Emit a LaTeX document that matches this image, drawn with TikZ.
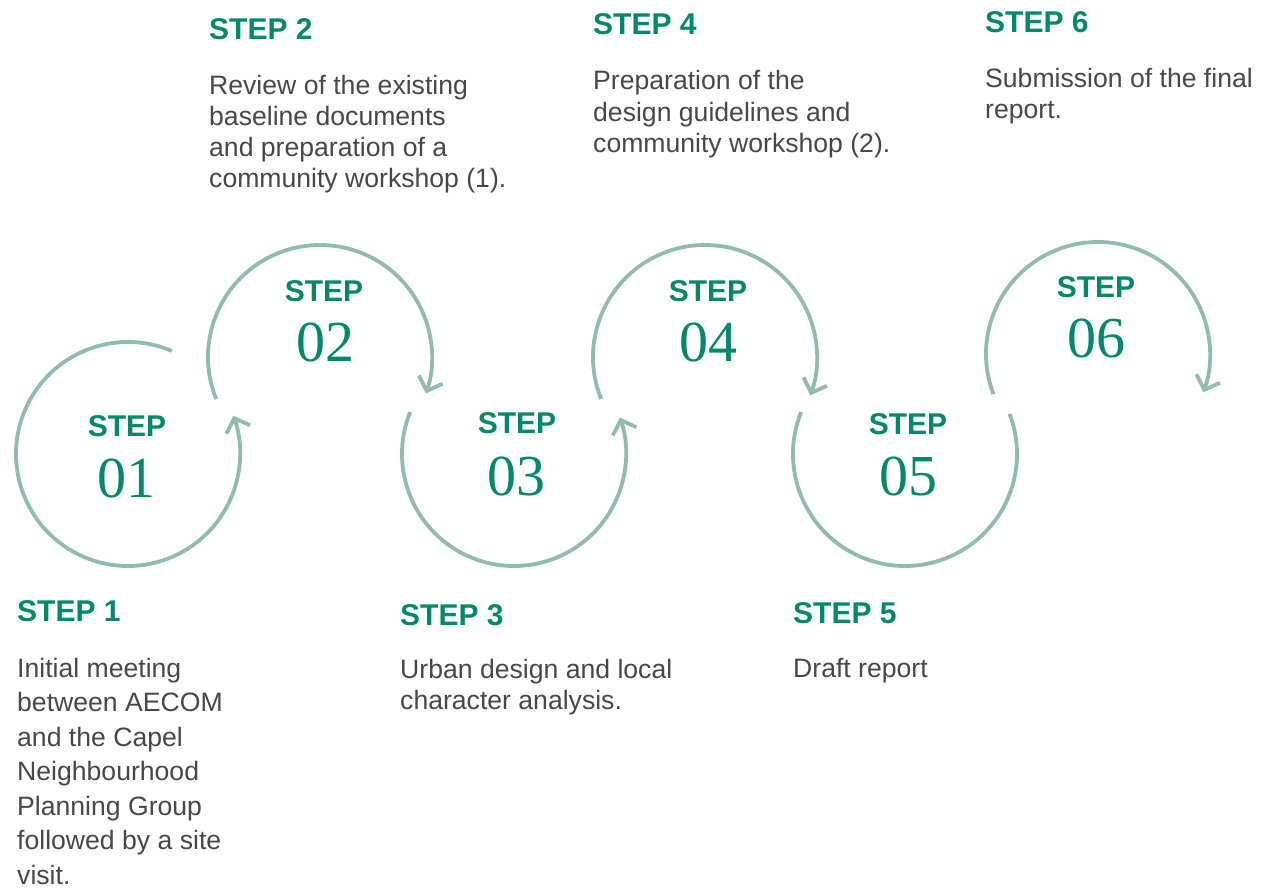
\documentclass[tikz,border=0pt]{standalone}
\usepackage{fontspec}
\setmainfont{Liberation Sans}
\newfontfamily\numfont{Liberation Serif}
\usetikzlibrary{arrows.meta}
\definecolor{stepgreen}{HTML}{00896A}
\definecolor{ringgreen}{HTML}{8FBDA9}
\definecolor{bodygray}{HTML}{474747}
\tikzset{
  ring/.style={draw=ringgreen, line width=3.8pt},
  ringarrow/.style={ring, -{Straight Barb[length=12pt,width=25pt]}},
  head/.style={anchor=base west, inner sep=0pt, text=stepgreen, font=\fontsize{30}{36}\selectfont\bfseries},
  body/.style={anchor=base west, inner sep=0pt, text=bodygray, font=\fontsize{26.6}{32}\selectfont},
  inhead/.style={anchor=base, inner sep=0pt, text=stepgreen, font=\fontsize{30}{36}\selectfont\bfseries},
  innum/.style={anchor=base, inner sep=0pt, text=stepgreen, font=\fontsize{58}{62}\selectfont\numfont},
}
\newcommand\blocklines[2]{\vtop{\baselineskip=#1\relax #2}}
\begin{document}
\begin{tikzpicture}[x=1pt,y=1pt]
\useasboundingbox (0,0) rectangle (1277,-890);
% ring centres
\coordinate (c1) at (128,-454);
\coordinate (c2) at (320,-357);
\coordinate (c3) at (514,-454);
\coordinate (c4) at (705,-357);
\coordinate (c5) at (905,-454);
\coordinate (c6) at (1098,-354);
% rings
\draw[ringarrow] ([shift={(67:112)}]c1) arc[start angle=67, end angle=380, radius=112];
\draw[ringarrow] ([shift={(202:112)}]c2) arc[start angle=202, end angle=-19, radius=112];
\draw[ringarrow] ([shift={(158:112)}]c3) arc[start angle=158, end angle=379, radius=112];
\draw[ringarrow] ([shift={(202:112)}]c4) arc[start angle=202, end angle=-20, radius=112];
\draw[ring] ([shift={(158:112)}]c5) arc[start angle=158, end angle=381, radius=112];
\draw[ringarrow] ([shift={(201:112)}]c6) arc[start angle=201, end angle=-20, radius=112];
% text inside rings
\node[inhead] (s1) at (127,-436) {STEP};
\node[innum]  (n1) at (126,-497) {01};
\node[inhead] (s2) at (324,-302) {STEP};
\node[innum]  (n2) at (325,-362) {02};
\node[inhead] (s3) at (517,-433) {STEP};
\node[innum]  (n3) at (516,-495) {03};
\node[inhead] (s4) at (708,-302) {STEP};
\node[innum]  (n4) at (708,-362) {04};
\node[inhead] (s5) at (908,-435) {STEP};
\node[innum]  (n5) at (908,-495) {05};
\node[inhead] (s6) at (1096,-298) {STEP};
\node[innum]  (n6) at (1096,-358) {06};
% headings
\node[head] (h1) at (17,-621) {STEP 1};
\node[head] (h2) at (209,-40) {STEP 2};
\node[head] (h3) at (400,-625) {STEP 3};
\node[head] (h4) at (593,-35) {STEP 4};
\node[head] (h5) at (793,-623) {STEP 5};
\node[head] (h6) at (985,-33) {STEP 6};
% descriptions
\node[body] (b1) at (17,-677) {\blocklines{34.5pt}{\hbox{Initial meeting}\hbox{between AECOM}\hbox{and the Capel}\hbox{Neighbourhood}\hbox{Planning Group}\hbox{followed by a site}\hbox{visit.}}};
\node[body] (b2) at (209,-95) {\blocklines{31pt}{\hbox{Review of the existing}\hbox{baseline documents}\hbox{and preparation of a}\hbox{community workshop (1).}}};
\node[body] (b3) at (400,-678) {\blocklines{31pt}{\hbox{Urban design and local}\hbox{character analysis.}}};
\node[body] (b4) at (593,-90) {\blocklines{31.5pt}{\hbox{Preparation of the}\hbox{design guidelines and}\hbox{community workshop (2).}}};
\node[body] (b5) at (793,-677) {Draft report};
\node[body] (b6) at (985,-88) {\blocklines{30.5pt}{\hbox{Submission of the final}\hbox{report.}}};
\end{tikzpicture}
\end{document}
